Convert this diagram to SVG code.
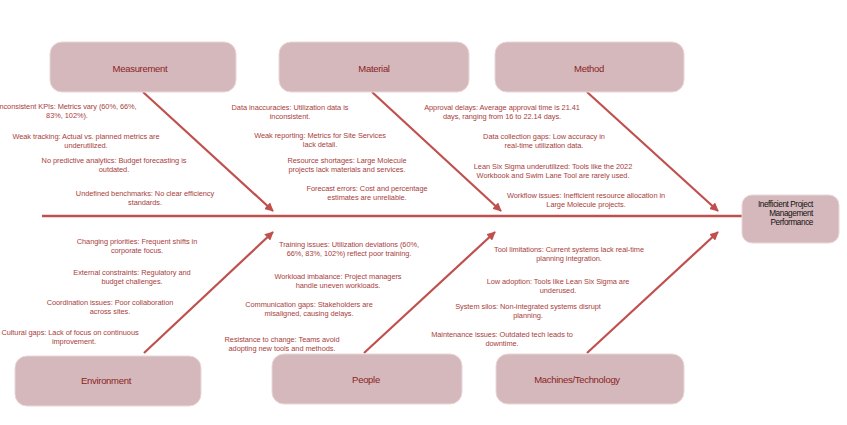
<svg xmlns="http://www.w3.org/2000/svg" width="847" height="425" viewBox="0 0 847 425">
<defs>
<marker id="ah" viewBox="0 0 10 10" refX="9" refY="5" markerWidth="4" markerHeight="4" orient="auto" markerUnits="strokeWidth">
<path d="M0,0 L10,5 L0,10 z" fill="#c0504d"/>
</marker>
<style>
.box{fill:#d5b8bb;stroke:#e8d6d8;stroke-width:1}
.lbl{font-family:"Liberation Sans",Arial,sans-serif;font-size:9.5px;fill:#8b2323;text-anchor:middle;letter-spacing:-0.3px}
.t{font-family:"Liberation Sans",Arial,sans-serif;font-size:7.4px;fill:#a8403c;text-anchor:middle;letter-spacing:-0.05px}
.bone{stroke:#c0504d;stroke-width:2.2;fill:none;marker-end:url(#ah)}
.head{font-family:"Liberation Sans",Arial,sans-serif;font-size:8.2px;fill:#111;text-anchor:end;letter-spacing:-0.4px}
</style>
</defs>
<rect width="847" height="425" fill="#fff"/>
<g id="connectors">
<line x1="42" y1="216" x2="742" y2="216" stroke="#c0504d" stroke-width="2.6"/>
<line class="bone" x1="143" y1="92" x2="273" y2="211"/>
<line class="bone" x1="372" y1="92" x2="501" y2="211"/>
<line class="bone" x1="587" y1="92" x2="718" y2="211"/>
<line class="bone" x1="144" y1="353" x2="273" y2="232"/>
<line class="bone" x1="364" y1="353" x2="495" y2="232"/>
<line class="bone" x1="587" y1="353" x2="718" y2="232"/>
</g>
<g id="measurement">
<rect class="box" x="50" y="42" width="186" height="50" rx="12"/>
<text class="lbl" x="140" y="72">Measurement</text>
</g>
<g id="material">
<rect class="box" x="279" y="42" width="190" height="50" rx="12"/>
<text class="lbl" x="374" y="72">Material</text>
</g>
<g id="method">
<rect class="box" x="495" y="42" width="189" height="50" rx="12"/>
<text class="lbl" x="589" y="72">Method</text>
</g>
<g id="environment">
<rect class="box" x="15" y="356" width="186" height="50" rx="12"/>
<text class="lbl" x="106" y="384">Environment</text>
</g>
<g id="people">
<rect class="box" x="272" y="354" width="190" height="50" rx="12"/>
<text class="lbl" x="366" y="383">People</text>
</g>
<g id="machines">
<rect class="box" x="496" y="354" width="188" height="50" rx="12"/>
<text class="lbl" x="577" y="383">Machines/Technology</text>
</g>
<g id="problem">
<rect class="box" x="742" y="195" width="97" height="48" rx="10"/>
<text class="head" x="813" y="207">Inefficient Project</text>
<text class="head" x="813" y="216">Management</text>
<text class="head" x="813" y="225">Performance</text>
</g>
<g id="measurement-causes">
<text class="t" x="67" y="109">Inconsistent KPIs: Metrics vary (60%, 66%,</text>
<text class="t" x="67" y="118">83%, 102%).</text>
<text class="t" x="86" y="139">Weak tracking: Actual vs. planned metrics are</text>
<text class="t" x="86" y="148">underutilized.</text>
<text class="t" x="114" y="163">No predictive analytics: Budget forecasting is</text>
<text class="t" x="114" y="172">outdated.</text>
<text class="t" x="145" y="196">Undefined benchmarks: No clear efficiency</text>
<text class="t" x="145" y="205">standards.</text>
</g>
<g id="material-causes">
<text class="t" x="290" y="110">Data inaccuracies: Utilization data is</text>
<text class="t" x="290" y="119">inconsistent.</text>
<text class="t" x="320" y="138">Weak reporting: Metrics for Site Services</text>
<text class="t" x="320" y="147">lack detail.</text>
<text class="t" x="347" y="163">Resource shortages: Large Molecule</text>
<text class="t" x="347" y="172">projects lack materials and services.</text>
<text class="t" x="367" y="191">Forecast errors: Cost and percentage</text>
<text class="t" x="367" y="200">estimates are unreliable.</text>
</g>
<g id="method-causes">
<text class="t" x="502" y="110" letter-spacing="-0.55">Approval delays: Average approval time is 21.41</text>
<text class="t" x="502" y="119" letter-spacing="-0.55">days, ranging from 16 to 22.14 days.</text>
<text class="t" x="544" y="139">Data collection gaps: Low accuracy in</text>
<text class="t" x="544" y="148">real-time utilization data.</text>
<text class="t" x="553" y="169">Lean Six Sigma underutilized: Tools like the 2022</text>
<text class="t" x="553" y="178">Workbook and Swim Lane Tool are rarely used.</text>
<text class="t" x="586" y="198">Workflow issues: Inefficient resource allocation in</text>
<text class="t" x="586" y="207">Large Molecule projects.</text>
</g>
<g id="environment-causes">
<text class="t" x="137" y="244">Changing priorities: Frequent shifts in</text>
<text class="t" x="137" y="253">corporate focus.</text>
<text class="t" x="132" y="275">External constraints: Regulatory and</text>
<text class="t" x="132" y="284">budget challenges.</text>
<text class="t" x="110" y="305">Coordination issues: Poor collaboration</text>
<text class="t" x="110" y="314">across sites.</text>
<text class="t" x="70" y="335">Cultural gaps: Lack of focus on continuous</text>
<text class="t" x="74" y="344">improvement.</text>
</g>
<g id="people-causes">
<text class="t" x="349" y="247">Training issues: Utilization deviations (60%,</text>
<text class="t" x="349" y="256">66%, 83%, 102%) reflect poor training.</text>
<text class="t" x="338" y="279">Workload imbalance: Project managers</text>
<text class="t" x="338" y="288">handle uneven workloads.</text>
<text class="t" x="309" y="307">Communication gaps: Stakeholders are</text>
<text class="t" x="309" y="316">misaligned, causing delays.</text>
<text class="t" x="282" y="342">Resistance to change: Teams avoid</text>
<text class="t" x="282" y="351">adopting new tools and methods.</text>
</g>
<g id="machines-causes">
<text class="t" x="569" y="252">Tool limitations: Current systems lack real-time</text>
<text class="t" x="569" y="261">planning integration.</text>
<text class="t" x="558" y="284">Low adoption: Tools like Lean Six Sigma are</text>
<text class="t" x="558" y="293">underused.</text>
<text class="t" x="528" y="309">System silos: Non-integrated systems disrupt</text>
<text class="t" x="528" y="318">planning.</text>
<text class="t" x="502" y="337">Maintenance issues: Outdated tech leads to</text>
<text class="t" x="502" y="346">downtime.</text>
</g>
</svg>
